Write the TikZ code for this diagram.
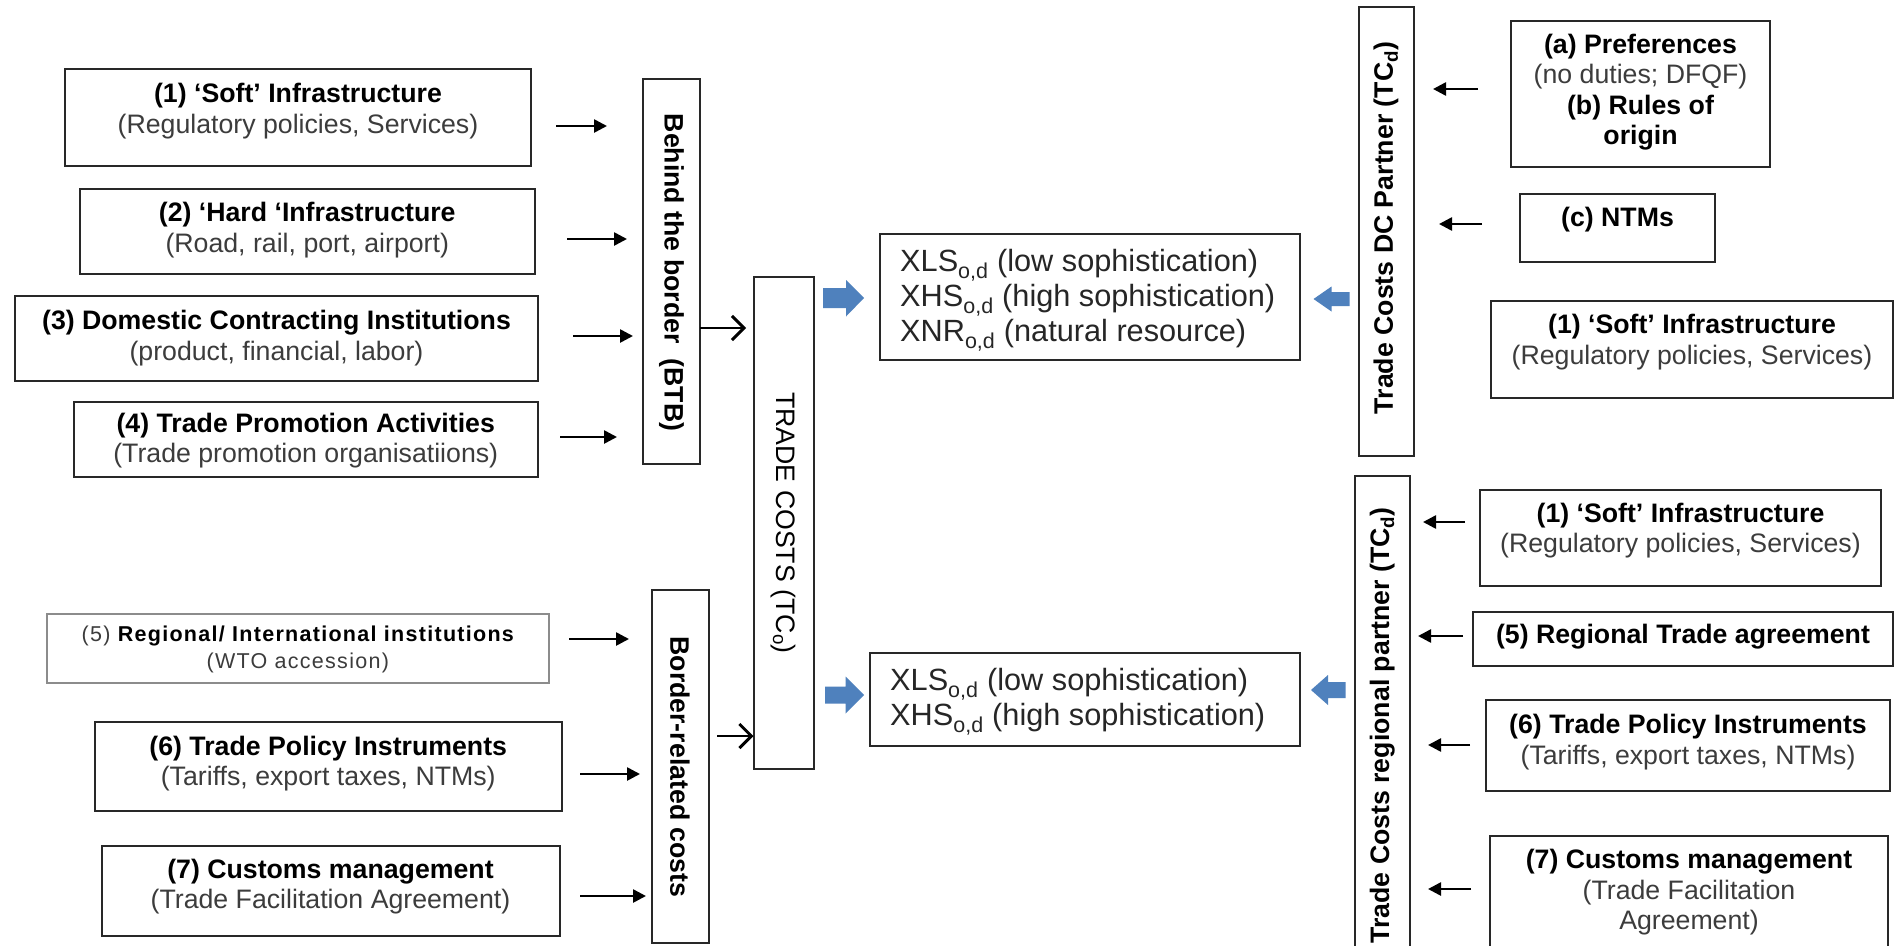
\documentclass[tikz,border=0pt]{standalone}
\usepackage{fontspec}
\setmainfont{Liberation Sans}
\usetikzlibrary{arrows.meta}
\definecolor{bluearr}{RGB}{79,129,189}
\definecolor{boxline}{RGB}{40,40,40}
\definecolor{subtxt}{RGB}{60,60,60}
\newcommand\st[1]{{\color{subtxt}#1}}
\newcommand\mybx[7]{%
  \node[bx, minimum width={#4-#2}, minimum height={#5-#3}] (#1) at ({(#2+#4)/2},{(#3+#5)/2}) {};
  \node[tx] (#1t) at ({(#2+#4)/2},#6) {#7};}
\begin{document}
\begin{tikzpicture}[x=1pt,y=-1pt,
  bx/.style={draw=boxline, line width=2pt, inner sep=0pt, outer sep=0pt},
  tx/.style={align=center, inner sep=0pt, font=\fontsize{26.7}{30.5}\selectfont, text=black},
  vt/.style={inner sep=0pt, font=\fontsize{26.7}{30.5}\selectfont, text=black},
  xt/.style={align=left, inner sep=0pt, anchor=west, font=\fontsize{30.7}{35}\selectfont, text=black!85},
  arr/.style={line width=2.6pt, -{Triangle[length=13pt,width=13pt]}},
  oarr/.style={line width=2.8pt, -{Straight Barb[length=12pt,width=24pt,line width=3pt]}},
  barrow/.style={fill=bluearr}]
\useasboundingbox (0,0) rectangle (1898,945);
\fill[white] (0,0) rectangle (1898,945);
\clip (0,0) rectangle (1898,945);

% ---------- left column ----------
\mybx{l1}{65}{69}{531}{166}{111}{{\bfseries (1) ‘Soft’ Infrastructure}\\\st{(Regulatory policies, Services)}}
\mybx{l2}{80}{189}{534.5}{274}{230}{{\bfseries (2) ‘Hard ‘Infrastructure}\\\st{(Road, rail, port, airport)}}
\mybx{l3}{15}{296}{538}{381}{338}{{\bfseries (3) Domestic Contracting Institutions}\\\st{(product, financial, labor)}}
\mybx{l4}{73.5}{402}{538}{477}{440.5}{{\bfseries (4) Trade Promotion Activities}\\\st{(Trade promotion organisatiions)}}
\node[bx, draw=black!45, minimum width=501.6, minimum height=69] (l5) at (297.8,648.5) {};
\node[tx, font=\fontsize{21.5}{27.5}\selectfont\addfontfeatures{LetterSpace=6}] (l5t) at (297.8,649.5)
  {\st{(5)} {\bfseries Regional/ International institutions}\\\st{(WTO accession)}};
\mybx{l6}{95}{722}{561.5}{811}{763.5}{{\bfseries (6) Trade Policy Instruments}\\\st{(Tariffs, export taxes, NTMs)}}
\mybx{l7}{101.5}{846}{559.5}{936}{886.5}{{\bfseries (7) Customs management}\\\st{(Trade Facilitation Agreement)}}

% ---------- vertical boxes ----------
\node[bx, minimum width=57, minimum height=385] (btb) at (671.5,271.5) {};
\node[vt, rotate=-90, font=\fontsize{26.7}{30.5}\selectfont\bfseries] (btbt) at (671.5,272.5) {Behind the border\ \ (BTB)};
\node[bx, minimum width=60.3, minimum height=492.6] (tc) at (783.65,523) {};
\node[vt, rotate=-90] (tct) at (783.65,523) {TRADE COSTS (TC\textsubscript{o})};
\node[bx, minimum width=57, minimum height=353] (brc) at (680,766.5) {};
\node[vt, rotate=-90, font=\fontsize{26.7}{30.5}\selectfont\bfseries] (brct) at (680,767) {Border-related costs};
\node[bx, minimum width=55, minimum height=449] (dc) at (1386,231.5) {};
\node[vt, rotate=90, font=\fontsize{26.7}{30.5}\selectfont\bfseries] (dct) at (1386,228) {Trade Costs DC Partner (TC\textsubscript{d})};
\node[bx, minimum width=55.5, minimum height=484] (rp) at (1382.25,718) {};
\node[vt, rotate=90, font=\fontsize{26.7}{30.5}\selectfont\bfseries] (rpt) at (1382.25,725.5) {Trade Costs regional partner (TC\textsubscript{d})};

% ---------- outcome boxes ----------
\node[bx, minimum width=419.5, minimum height=126] (xa) at (1089.75,297) {};
\node[xt] (xat) at (900,300) {XLS\textsubscript{o,d} (low sophistication)\\XHS\textsubscript{o,d} (high sophistication)\\XNR\textsubscript{o,d} (natural resource)};
\node[bx, minimum width=429.5, minimum height=93] (xb) at (1084.75,699.5) {};
\node[xt] (xbt) at (890,701.5) {XLS\textsubscript{o,d} (low sophistication)\\XHS\textsubscript{o,d} (high sophistication)};

% ---------- right column ----------
\mybx{ra}{1511}{21}{1770}{167}{92}{{\bfseries (a) Preferences}\\\st{(no duties; DFQF)}\\{\bfseries (b) Rules of}\\{\bfseries origin}}
\mybx{rc}{1520}{194}{1715}{262}{220}{\bfseries (c) NTMs}
\mybx{rs}{1491}{301}{1893}{398}{342}{{\bfseries (1) ‘Soft’ Infrastructure}\\\st{(Regulatory policies, Services)}}
\mybx{r1}{1480}{490}{1881}{586}{530.5}{{\bfseries (1) ‘Soft’ Infrastructure}\\\st{(Regulatory policies, Services)}}
\mybx{r5}{1473}{612}{1893}{666}{637}{\bfseries (5) Regional Trade agreement}
\mybx{r6}{1486}{700}{1890}{791}{742}{{\bfseries (6) Trade Policy Instruments}\\\st{(Tariffs, export taxes, NTMs)}}
\mybx{r7}{1490}{836}{1888}{960}{892.5}{{\bfseries (7) Customs management}\\\st{(Trade Facilitation}\\\st{Agreement)}}

% ---------- arrow end points ----------
\coordinate (a1s) at (556,126);  \coordinate (a1e) at (607,126);
\coordinate (a2s) at (567,239);  \coordinate (a2e) at (627,239);
\coordinate (a3s) at (573,336);  \coordinate (a3e) at (633,336);
\coordinate (a4s) at (560,437);  \coordinate (a4e) at (617,437);
\coordinate (a5s) at (569,639);  \coordinate (a5e) at (629,639);
\coordinate (a6s) at (580,774);  \coordinate (a6e) at (640,774);
\coordinate (a7s) at (580,896);  \coordinate (a7e) at (646,896);
\coordinate (o1e) at (746,328);
\coordinate (o2s) at (717,736);
\coordinate (ras) at (1478,89);  \coordinate (rae) at (1433,89);
\coordinate (rcs) at (1482,224); \coordinate (rce) at (1439,224);
\coordinate (r1s) at (1465,522); \coordinate (r1e) at (1423,522);
\coordinate (r5s) at (1463,636); \coordinate (r5e) at (1418,636);
\coordinate (r6s) at (1470,745); \coordinate (r6e) at (1428,745);
\coordinate (r7s) at (1471,889); \coordinate (r7e) at (1428,889);

\foreach \a in {a1,a2,a3,a4,a5,a6,a7,ra,rc,r1,r5,r6,r7}
  \draw[arr] (\a s) -- (\a e);
\draw[oarr] (btb.east |- o1e) -- (o1e);
\draw[oarr] (o2s) -- (o2s -| tc.west);

% ---------- blue block arrows ----------
\fill[barrow] (823,288) -- (846,288) -- (846,280) -- (864,298) -- (846,316.5) -- (846,308) -- (823,308) -- cycle;
\fill[barrow] (825,686.5) -- (845.5,686.5) -- (845.5,676.5) -- (864,695) -- (845.5,713.5) -- (845.5,703.5) -- (825,703.5) -- cycle;
\fill[barrow] (1349.5,292) -- (1331.5,292) -- (1331.5,286.5) -- (1313.5,299) -- (1331.5,311.5) -- (1331.5,306) -- (1349.5,306) -- cycle;
\fill[barrow] (1345.5,682) -- (1328,682) -- (1328,675) -- (1311,690) -- (1328,705) -- (1328,698) -- (1345.5,698) -- cycle;
\end{tikzpicture}
\end{document}
